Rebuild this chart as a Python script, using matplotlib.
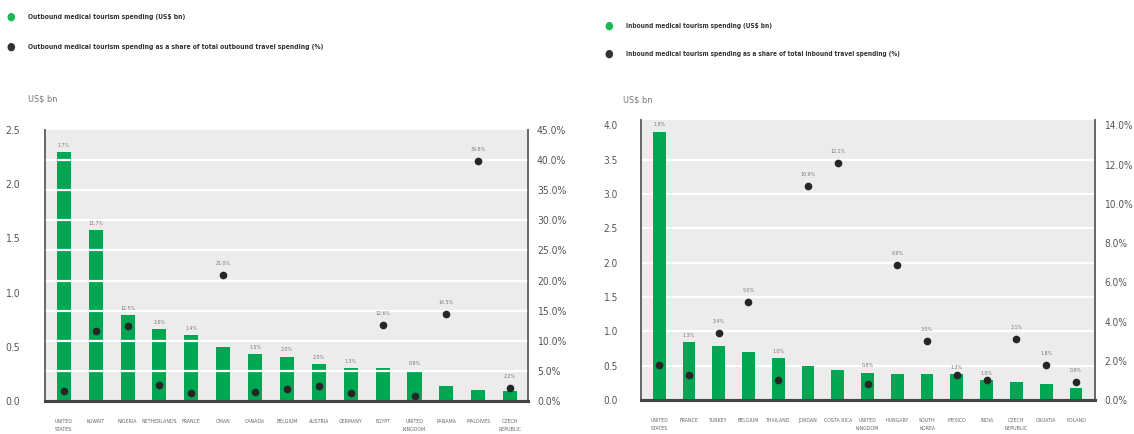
import matplotlib
matplotlib.use("Agg")
import matplotlib.pyplot as plt
import numpy as np

plt.rcParams['font.family'] = ['DejaVu Sans']
plt.rcParams['font.stretch'] = 'condensed'

# Outbound medical tourism
out_countries = ["UNITED\nSTATES", "KUWAIT", "NIGERIA", "NETHERLANDS", "FRANCE", "OMAN",
                 "CANADA", "BELGIUM", "AUSTRIA", "GERMANY", "EGYPT", "UNITED\nKINGDOM",
                 "PANAMA", "MALDIVES", "CZECH\nREPUBLIC"]
out_spend = [2.30, 1.58, 0.79, 0.66, 0.61, 0.50, 0.43, 0.41, 0.34, 0.30, 0.30, 0.28, 0.14, 0.10, 0.09]
out_share = [1.7, 11.7, 12.5, 2.6, 1.4, 21.0, 1.5, 2.0, 2.5, 1.3, 12.6, 0.9, 14.5, 39.8, 2.2]

# Inbound medical tourism
in_countries = ["UNITED\nSTATES", "FRANCE", "TURKEY", "BELGIUM", "THAILAND", "JORDAN",
                "COSTA RICA", "UNITED\nKINGDOM", "HUNGARY", "SOUTH\nKOREA", "MEXICO", "INDIA",
                "CZECH\nREPUBLIC", "CROATIA", "POLAND"]
in_spend = [3.91, 0.84, 0.78, 0.70, 0.61, 0.49, 0.43, 0.40, 0.38, 0.38, 0.38, 0.29, 0.26, 0.23, 0.17]
in_share = [1.8, 1.3, 3.4, 5.0, 1.0, 10.9, 12.1, 0.8, 6.9, 3.0, 1.3, 1.0, 3.1, 1.8, 0.9]

GREEN = "#00a651"
DOT = "#262626"
BG = "#ececec"
TXT = "#555555"

fig = plt.figure(figsize=(11.34, 4.34), dpi=100)


def draw_panel(rect, countries, spend, share, ylim, yticks, ylim2, yticks2,
               grid_on_secondary, xlim, width, pad_l, pad_r, tick_size):
    ax = fig.add_axes(rect)
    ax2 = ax.twinx()
    x = np.arange(len(countries))
    ax.set_facecolor(BG)
    ax.set_zorder(1)
    ax2.set_zorder(2)
    ax.bar(x, spend, width=width, color=GREEN, zorder=3)
    ax.set_xlim(*xlim)
    ax.set_ylim(*ylim)
    ax.set_yticks(yticks)
    ax.set_yticklabels([f"{v:.1f}" for v in yticks])
    ax2.set_ylim(*ylim2)
    ax2.set_yticks(yticks2)
    ax2.set_yticklabels([f"{v:.1f}%" for v in yticks2])
    ax2.plot(x, share, 'o', color=DOT, markersize=4.5, zorder=5)

    # white grid lines between the baseline and the top tick
    grid_ax = ax2 if grid_on_secondary else ax
    grid_ticks = yticks2 if grid_on_secondary else yticks
    for t in grid_ticks[1:-1]:
        grid_ax.axhline(t, color="white", lw=1.6, zorder=1)

    ax.set_xticks(x)
    ax.set_xticklabels(countries, fontsize=3.8, color="#666666", linespacing=1.7)
    ax.tick_params(axis='x', length=0, pad=13)
    ax.tick_params(axis='y', length=0, pad=pad_l, labelsize=tick_size, labelcolor=TXT)
    ax2.tick_params(axis='y', length=0, pad=pad_r, labelsize=tick_size, labelcolor=TXT)

    for a in (ax, ax2):
        a.spines['top'].set_visible(False)
        a.spines['left'].set_color("#666666")
        a.spines['left'].set_linewidth(1.2)
        a.spines['right'].set_color("#666666")
        a.spines['right'].set_linewidth(1.2)
        a.spines['bottom'].set_color("#444444")
        a.spines['bottom'].set_linewidth(2.2)

    # value labels for the share series, above whichever mark is higher
    scale = ylim2[1] / ylim[1]
    for xi, s, p in zip(x, spend, share):
        bar_top = s * scale
        if p > bar_top:
            ax2.annotate(f"{p:.1f}%", (xi, p), xytext=(0, 6.5), textcoords="offset points",
                         ha="center", va="bottom", fontsize=3.8, color="#777777", zorder=6)
        else:
            ax2.annotate(f"{p:.1f}%", (xi, bar_top), xytext=(0, 3), textcoords="offset points",
                         ha="center", va="bottom", fontsize=3.8, color="#777777", zorder=6)
    return ax, ax2


# Left: outbound
draw_panel([45 / 1134, 33 / 434, 483 / 1134, 271 / 434],
           out_countries, out_spend, out_share,
           (0, 2.5), [0.0, 0.5, 1.0, 1.5, 2.0, 2.5],
           (0, 45), [0, 5, 10, 15, 20, 25, 30, 35, 40, 45],
           True, (-0.59, 14.56), 0.44, 18, 6.5, 7.5)

# Right: inbound
draw_panel([641 / 1134, 34 / 434, 454 / 1134, 280 / 434],
           in_countries, in_spend, in_share,
           (0, 4.08), [0.0, 0.5, 1.0, 1.5, 2.0, 2.5, 3.0, 3.5, 4.0],
           (0, 14.28), [0, 2, 4, 6, 8, 10, 12, 14],
           False, (-0.61, 14.64), 0.43, 16.5, 7, 7.2)

# Legends and unit captions


def legend_item(x_dot, y, color, text, size):
    fig.text(x_dot / 1134, 1 - y / 434, "\u25CF", color=color, fontsize=8,
             ha="center", va="center")
    fig.text((x_dot + 17) / 1134, 1 - y / 434, text, color="#333333", fontsize=size,
             ha="left", va="center", fontweight="bold")


legend_item(11, 17, "#1db954", "Outbound medical tourism spending (US$ bn)", 4.9)
legend_item(11, 47, "#333333",
            "Outbound medical tourism spending as a share of total outbound travel spending (%)", 4.9)
legend_item(609, 26, "#1db954", "Inbound medical tourism spending (US$ bn)", 4.7)
legend_item(609, 54, "#333333",
            "Inbound medical tourism spending as a share of total inbound travel spending (%)", 4.7)

fig.text(28 / 1134, 1 - 99 / 434, "US$ bn", color="#777777", fontsize=6.5, ha="left", va="center")
fig.text(623 / 1134, 1 - 100 / 434, "US$ bn", color="#777777", fontsize=6.5, ha="left", va="center")

fig.savefig("out.png", dpi=100)
